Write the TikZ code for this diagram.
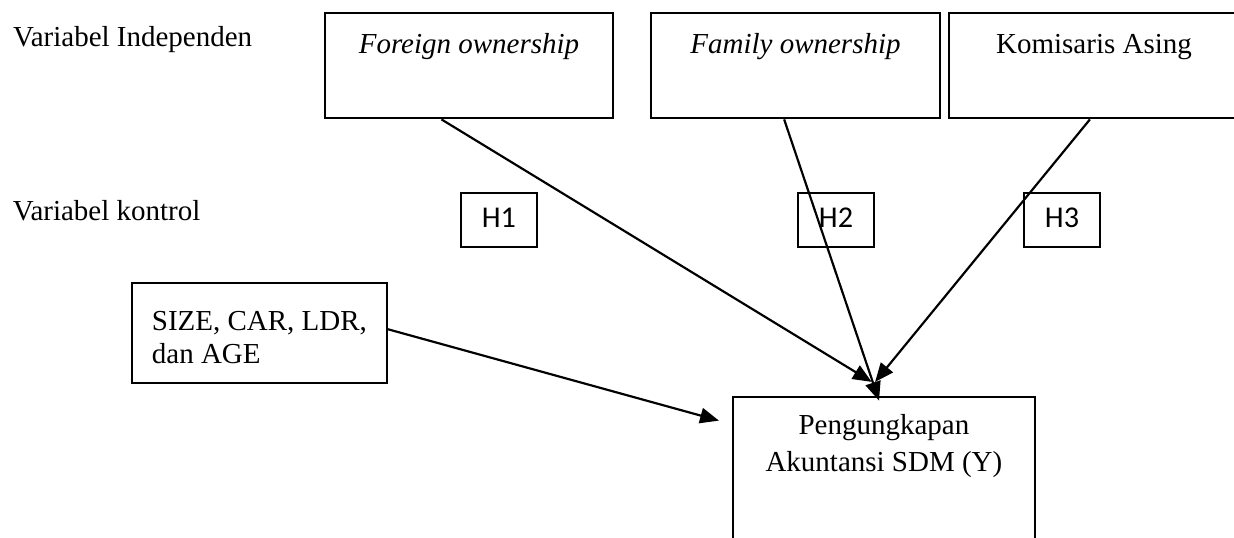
\documentclass[tikz,border=0pt]{standalone}
\usepackage{fontspec}
\setmainfont{Liberation Serif}
\newfontfamily\calibri{Carlito}
\usetikzlibrary{arrows.meta,calc}

% one pixel of the layout
\newcommand\pxu{0.414pt}

\begin{document}
\begin{tikzpicture}[
  x=\pxu, y=-\pxu,
  font=\fontsize{12}{13.7}\selectfont,
  line width=0.9pt,
  box/.style={draw, inner sep=0pt, anchor=base},
  varbox/.style={box, minimum width=#1*\pxu, text height=40.3*\pxu, text depth=65.3*\pxu},
  hbox/.style={box, minimum width=76.3*\pxu, text height=34.7*\pxu, text depth=19.3*\pxu,
    font=\calibri\fontsize{12.5}{14}\selectfont},
  link/.style={-{Triangle[length=7.8pt,width=6.4pt]}},
]

\useasboundingbox (0,0) rectangle (1234,537);
\clip (0,0) rectangle (1234,537);

\node (vi) [inner sep=0pt, anchor=base west] at (12,46.7) {Variabel Independen};
\node (vk) [inner sep=0pt, anchor=base west] at (11.7,220) {Variabel kontrol};

% independent variables
\node (fo) [varbox=288] at (469,53) {\textit{Foreign ownership}};
\node (fa) [varbox=289] at (795.5,53) {\textit{Family ownership}};
\node (ka) [varbox=290] at (1094,53) {Komisaris Asing};

% hypotheses
\node (h1) [hbox] at (498.9,227.7) {H1};
\node (h2) [hbox] at (836,227.7) {H2};
\node (h3) [hbox] at (1062,227.7) {H3};

% control and dependent variable (base = last line)
\node (ctrl) [box, align=left, minimum width=254.7*\pxu, text height=80*\pxu, text depth=20*\pxu]
  at (259.4,363.3) {SIZE, CAR, LDR,\\dan AGE};
\node (pk) [box, align=center, minimum width=302.3*\pxu, text height=75*\pxu, text depth=100*\pxu,
  font=\fontsize{12}{15.2}\selectfont] at (883.9,471.7) {Pengungkapan\\Akuntansi SDM (Y)};

\draw [link] ($(fo.south west)!.405!(fo.south east)$) -- ($(pk.north west)!.46!(pk.north east)+(0,-13.7)$);
\draw [link] ($(fa.south west)!.461!(fa.south east)$) -- ($(pk.north west)!.484!(pk.north east)+(0,5)$);
\draw [link] ($(ka.south west)!.486!(ka.south east)$) -- ($(pk.north west)!.471!(pk.north east)+(0,-13.7)$);
\draw [link] ($(ctrl.north east)!.46!(ctrl.south east)$) -- ($(pk.north west)+(-12.7,25)$);

\end{tikzpicture}
\end{document}
